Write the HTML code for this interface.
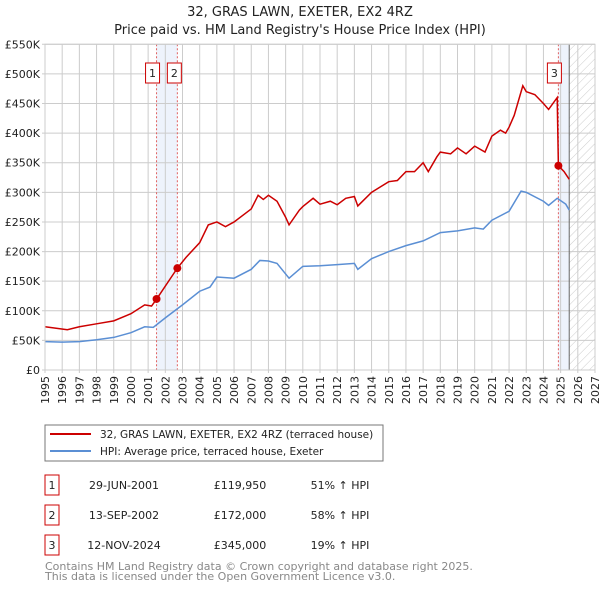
<!DOCTYPE html>
<html><head><meta charset="utf-8"><style>
body{margin:0;background:#fff;font-family:"DejaVu Sans","Liberation Sans",sans-serif;}
svg text{font-family:"DejaVu Sans","Liberation Sans",sans-serif;}
</style></head><body>
<svg id="c" width="600" height="590" xmlns="http://www.w3.org/2000/svg">
<defs><pattern id="hatch" width="6" height="6" patternUnits="userSpaceOnUse" patternTransform="rotate(45)"><line x1="0" y1="0" x2="0" y2="6" stroke="#ccc" stroke-width="1"/></pattern></defs>
<text x="300" y="16" text-anchor="middle" font-size="13" fill="#222">32, GRAS LAWN, EXETER, EX2 4RZ</text>
<text x="300" y="34" text-anchor="middle" font-size="13" fill="#222">Price paid vs. HM Land Registry's House Price Index (HPI)</text>
<g id="plot"></g>
<rect x="45" y="425" width="338" height="36" fill="#fff" stroke="#777" stroke-width="1"/>
<line x1="50" y1="434" x2="91" y2="434" stroke="#cc0000" stroke-width="2"/>
<text x="100" y="438" font-size="10.5" fill="#222">32, GRAS LAWN, EXETER, EX2 4RZ (terraced house)</text>
<line x1="50" y1="451" x2="91" y2="451" stroke="#5b8fd4" stroke-width="2"/>
<text x="100" y="455" font-size="10.5" fill="#222">HPI: Average price, terraced house, Exeter</text>
<g font-size="11" fill="#222">
<rect x="45" y="475" width="14" height="20" fill="#fff" stroke="#cc0000"/><text x="52" y="489" text-anchor="middle">1</text>
<text x="124" y="489" text-anchor="middle">29-JUN-2001</text><text x="240" y="489" text-anchor="middle">£119,950</text><text x="340" y="489" text-anchor="middle">51% ↑ HPI</text>
<rect x="45" y="505" width="14" height="20" fill="#fff" stroke="#cc0000"/><text x="52" y="519" text-anchor="middle">2</text>
<text x="124" y="519" text-anchor="middle">13-SEP-2002</text><text x="240" y="519" text-anchor="middle">£172,000</text><text x="340" y="519" text-anchor="middle">58% ↑ HPI</text>
<rect x="45" y="535" width="14" height="20" fill="#fff" stroke="#cc0000"/><text x="52" y="549" text-anchor="middle">3</text>
<text x="124" y="549" text-anchor="middle">12-NOV-2024</text><text x="240" y="549" text-anchor="middle">£345,000</text><text x="340" y="549" text-anchor="middle">19% ↑ HPI</text>
</g>
<text x="45" y="570" font-size="11" fill="#888">Contains HM Land Registry data © Crown copyright and database right 2025.</text>
<text x="45" y="580" font-size="11" fill="#888">This data is licensed under the Open Government Licence v3.0.</text>
</svg>
<script>
const yearTicks=[1995,1996,1997,1998,1999,2000,2001,2002,2003,2004,2005,2006,2007,2008,2009,2010,2011,2012,2013,2014,2015,2016,2017,2018,2019,2020,2021,2022,2023,2024,2025,2026,2027];
const priceTicks=[0,50,100,150,200,250,300,350,400,450,500,550];
const priceTickLabels=["£0","£50K","£100K","£150K","£200K","£250K","£300K","£350K","£400K","£450K","£500K","£550K"];
const hpiYears=[1995,1996,1997,1998,1999,2000,2000.8,2001.3,2002,2003,2004,2004.6,2005,2006,2007,2007.5,2008,2008.5,2009.2,2010,2011,2012,2013,2013.2,2014,2015,2016,2017,2018,2019,2020,2020.5,2021,2022,2022.7,2023,2024,2024.3,2024.8,2025.3,2025.5];
const hpiValues=[48,47,48,51,55,63,73,72,88,110,133,140,157,155,170,185,184,180,155,175,176,178,180,170,188,200,210,218,232,235,240,238,253,268,302,300,285,278,290,280,270];
const propYears=[1995,1996.3,1997,1998,1999,2000,2000.8,2001.2,2001.5,2002.7,2003.2,2004,2004.5,2005,2005.5,2006,2007,2007.4,2007.7,2008,2008.5,2009,2009.2,2009.8,2010,2010.6,2011,2011.6,2012,2012.5,2013,2013.2,2014,2015,2015.5,2016,2016.5,2017,2017.3,2017.8,2018,2018.6,2019,2019.5,2020,2020.6,2021,2021.5,2021.8,2022,2022.3,2022.8,2023,2023.5,2024,2024.3,2024.8,2024.87,2025.2,2025.5];
const propValues=[73,68,73,78,83,95,110,108,120,172,190,215,245,250,242,250,272,295,288,295,285,258,245,270,276,290,280,285,279,290,293,277,300,318,320,335,335,350,335,360,368,365,375,365,378,368,395,405,400,410,430,480,470,465,450,440,460,345,335,322];
const saleYears=[2001.49,2002.7,2024.87];
const saleValues=[119.95,172,345];
const saleLabels=["1","2","3"];
const X0=45,X1=595,Y0=370,Y1=44.3;
const xs=y=>X0+(y-1995)/(2027-1995)*(X1-X0);
const ys=v=>Y0-v/550*(Y0-Y1);
const NS="http://www.w3.org/2000/svg";
const g=document.getElementById('plot');
function mk(t,a){const e=document.createElementNS(NS,t);for(const k in a)e.setAttribute(k,a[k]);g.appendChild(e);return e;}
let e;
e=mk('rect',{x:X0,y:Y1,width:X1-X0,height:Y0-Y1,fill:'#fff'});


e=mk('rect',{x:xs(saleYears[0]),y:Y1,width:xs(saleYears[1])-xs(saleYears[0]),height:Y0-Y1,fill:'#eef3fc'});


e=mk('rect',{x:xs(saleYears[2]),y:Y1,width:xs(2025.5)-xs(saleYears[2]),height:Y0-Y1,fill:'#eef3fc'});


e=mk('rect',{x:xs(2025.5),y:Y1,width:X1-xs(2025.5),height:Y0-Y1,fill:'url(#hatch)'});


yearTicks.forEach(y=>{
 e=mk('line',{x1:xs(y),x2:xs(y),y1:Y1,y2:Y0+3,stroke:'#ccc','stroke-width':1});
 
 
 e=mk('text',{x:0,y:0,transform:`translate(${xs(y)+4},${Y0+6}) rotate(-90)`,'text-anchor':'end','font-size':11,fill:'#222'});
 e.textContent=y;
 
 
});
priceTicks.forEach((v,i)=>{
 e=mk('line',{x1:X0-3,x2:X1,y1:ys(v),y2:ys(v),stroke:'#ccc','stroke-width':1});
 
 
 e=mk('text',{x:40,y:ys(v)+4,'text-anchor':'end','font-size':11,fill:'#222'});
 e.textContent=priceTickLabels[i];
 
 
});
e=mk('line',{x1:xs(2025.5),x2:xs(2025.5),y1:Y1,y2:Y0,stroke:'#666','stroke-width':1});


saleYears.forEach((y,i)=>{
 e=mk('line',{x1:xs(y),x2:xs(y),y1:Y1,y2:Y0,stroke:'#e06060','stroke-width':1,'stroke-dasharray':'2,2'});
 
 
});
e=mk('polyline',{points:hpiYears.map((y,i)=>xs(y)+','+ys(hpiValues[i])).join(' '),fill:'none',stroke:'#5b8fd4','stroke-width':1.5});


e=mk('polyline',{points:propYears.map((y,i)=>xs(y)+','+ys(propValues[i])).join(' '),fill:'none',stroke:'#cc0000','stroke-width':1.5});


const labelOffsets=[-4,-3,-4];
saleYears.forEach((y,i)=>{
 e=mk('circle',{cx:xs(y),cy:ys(saleValues[i]),r:4,fill:'#cc0000'});
 
 
 const cx=xs(y)+labelOffsets[i];
 e=mk('rect',{x:cx-7,y:63,width:14,height:20,fill:'#fff',stroke:'#cc0000'});
 
 
 e=mk('text',{x:cx,y:77,'text-anchor':'middle','font-size':11,fill:'#222'});
 e.textContent=saleLabels[i];
 
 
});
e=mk('rect',{x:X0,y:Y1,width:X1-X0,height:Y0-Y1,fill:'none',stroke:'#ccc'});


</script>
</body></html>
